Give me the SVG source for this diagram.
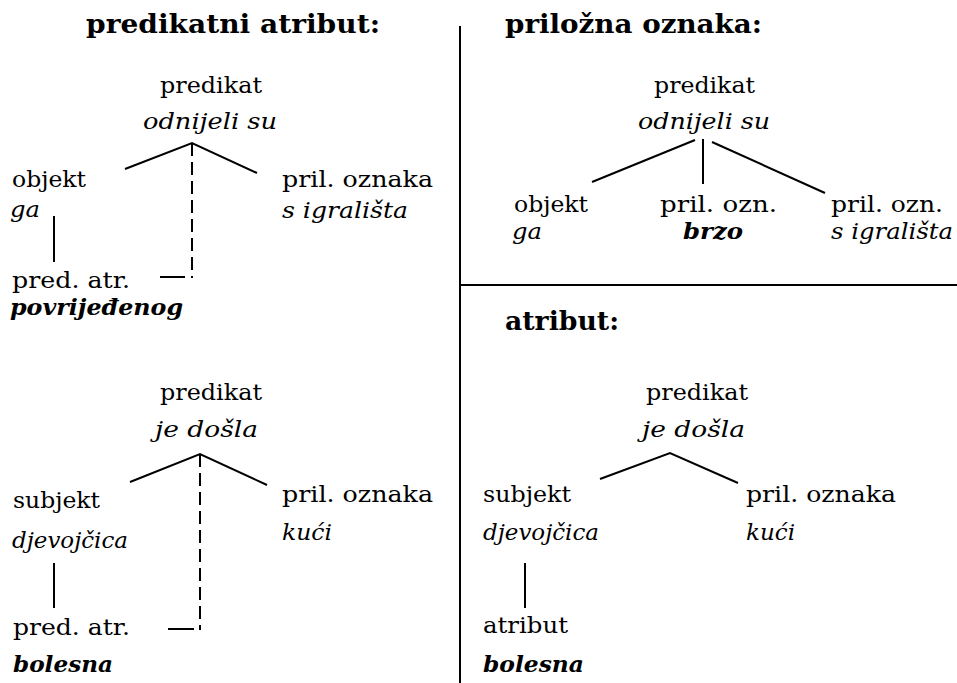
<svg xmlns="http://www.w3.org/2000/svg" width="957" height="683" viewBox="0 0 957 683">
<style>
text{font-family:"DejaVu Serif","Liberation Serif","Noto Serif",serif;font-size:23px;fill:#000}
.t{font-weight:bold;font-size:26px}
.s{font-size:22px}
.i{font-style:italic}
.bi{font-style:italic;font-weight:bold}
.ln{stroke:#000;stroke-width:2;fill:none}
.d{stroke-dasharray:13 6}
</style>
<rect width="957" height="683" fill="#fff"/>
<g id="frame">
<line class="ln" x1="460" y1="26" x2="460" y2="683" stroke-width="2.5"/>
<line class="ln" x1="461" y1="285" x2="957" y2="285"/>
</g>
<g id="titles">
<text class="t" x="86" y="33" textLength="294" lengthAdjust="spacingAndGlyphs">predikatni atribut:</text>
<text class="t" x="505" y="33" textLength="257" lengthAdjust="spacingAndGlyphs">priložna oznaka:</text>
<text class="t" x="505" y="330" textLength="114" lengthAdjust="spacingAndGlyphs">atribut:</text>
</g>
<g id="tl-pred"><text x="160" y="93" textLength="102" lengthAdjust="spacingAndGlyphs">predikat</text><text class="i" x="143" y="129" textLength="134" lengthAdjust="spacingAndGlyphs">odnijeli su</text></g>
<g id="tl-obj"><text x="12" y="187" textLength="74" lengthAdjust="spacingAndGlyphs">objekt</text><text class="i" x="10" y="217" textLength="30" lengthAdjust="spacingAndGlyphs">ga</text></g>
<g id="tl-pa"><text class="s" x="12" y="288" textLength="118" lengthAdjust="spacingAndGlyphs">pred. atr.</text><text class="bi s" x="10" y="315" textLength="173" lengthAdjust="spacingAndGlyphs">povrijeđenog</text></g>
<g id="tl-pril"><text x="282" y="187" textLength="151" lengthAdjust="spacingAndGlyphs">pril. oznaka</text><text class="i" x="282" y="218" textLength="126" lengthAdjust="spacingAndGlyphs">s igrališta</text></g>
<g id="tr-pred"><text x="654" y="93" textLength="101" lengthAdjust="spacingAndGlyphs">predikat</text><text class="i" x="638" y="129" textLength="132" lengthAdjust="spacingAndGlyphs">odnijeli su</text></g>
<g id="tr-obj"><text class="s" x="514" y="212" textLength="74" lengthAdjust="spacingAndGlyphs">objekt</text><text class="i s" x="512" y="239" textLength="30" lengthAdjust="spacingAndGlyphs">ga</text></g>
<g id="tr-pril1"><text class="s" x="660" y="212" textLength="117" lengthAdjust="spacingAndGlyphs">pril. ozn.</text><text class="bi s" x="683" y="239" textLength="60" lengthAdjust="spacingAndGlyphs">brzo</text></g>
<g id="tr-pril2"><text class="s" x="831" y="212" textLength="112" lengthAdjust="spacingAndGlyphs">pril. ozn.</text><text class="i s" x="831" y="239" textLength="122" lengthAdjust="spacingAndGlyphs">s igrališta</text></g>
<g id="bl-pred"><text x="160" y="400" textLength="102" lengthAdjust="spacingAndGlyphs">predikat</text><text class="i" x="155" y="437" textLength="103" lengthAdjust="spacingAndGlyphs">je došla</text></g>
<g id="bl-subj"><text x="13" y="508" textLength="87" lengthAdjust="spacingAndGlyphs">subjekt</text><text class="i" x="12" y="548" textLength="116" lengthAdjust="spacingAndGlyphs">djevojčica</text></g>
<g id="bl-pa"><text x="13" y="635" textLength="117" lengthAdjust="spacingAndGlyphs">pred. atr.</text><text class="bi" x="13" y="672" textLength="100" lengthAdjust="spacingAndGlyphs">bolesna</text></g>
<g id="bl-pril"><text x="282" y="502" textLength="151" lengthAdjust="spacingAndGlyphs">pril. oznaka</text><text class="i" x="282" y="540" textLength="50" lengthAdjust="spacingAndGlyphs">kući</text></g>
<g id="br-pred"><text x="646" y="400" textLength="102" lengthAdjust="spacingAndGlyphs">predikat</text><text class="i" x="642" y="437" textLength="103" lengthAdjust="spacingAndGlyphs">je došla</text></g>
<g id="br-subj"><text x="483" y="502" textLength="88" lengthAdjust="spacingAndGlyphs">subjekt</text><text class="i" x="483" y="540" textLength="116" lengthAdjust="spacingAndGlyphs">djevojčica</text></g>
<g id="br-atr"><text x="483" y="633" textLength="85" lengthAdjust="spacingAndGlyphs">atribut</text><text class="bi" x="483" y="672" textLength="101" lengthAdjust="spacingAndGlyphs">bolesna</text></g>
<g id="br-pril"><text x="746" y="502" textLength="150" lengthAdjust="spacingAndGlyphs">pril. oznaka</text><text class="i" x="746" y="540" textLength="49" lengthAdjust="spacingAndGlyphs">kući</text></g>
<g id="connectors">
<path class="ln" d="M125,169 L192,143 L257,173"/>
<line class="ln d" x1="192" y1="143" x2="192" y2="278"/>
<line class="ln" x1="160" y1="277" x2="185" y2="277"/>
<line class="ln" x1="54" y1="216" x2="54" y2="262"/>
<line class="ln" x1="695" y1="140" x2="592" y2="182"/>
<line class="ln" x1="703" y1="139" x2="703" y2="184"/>
<line class="ln" x1="712" y1="142" x2="825" y2="193"/>
<path class="ln" d="M130,482 L200,454 L267,485"/>
<line class="ln d" x1="200" y1="454" x2="200" y2="630"/>
<line class="ln" x1="168" y1="629" x2="194" y2="629"/>
<line class="ln" x1="54" y1="563" x2="54" y2="608"/>
<path class="ln" d="M600,479 L670,453 L738,483"/>
<line class="ln" x1="525" y1="563" x2="525" y2="608"/>
</g>
</svg>
